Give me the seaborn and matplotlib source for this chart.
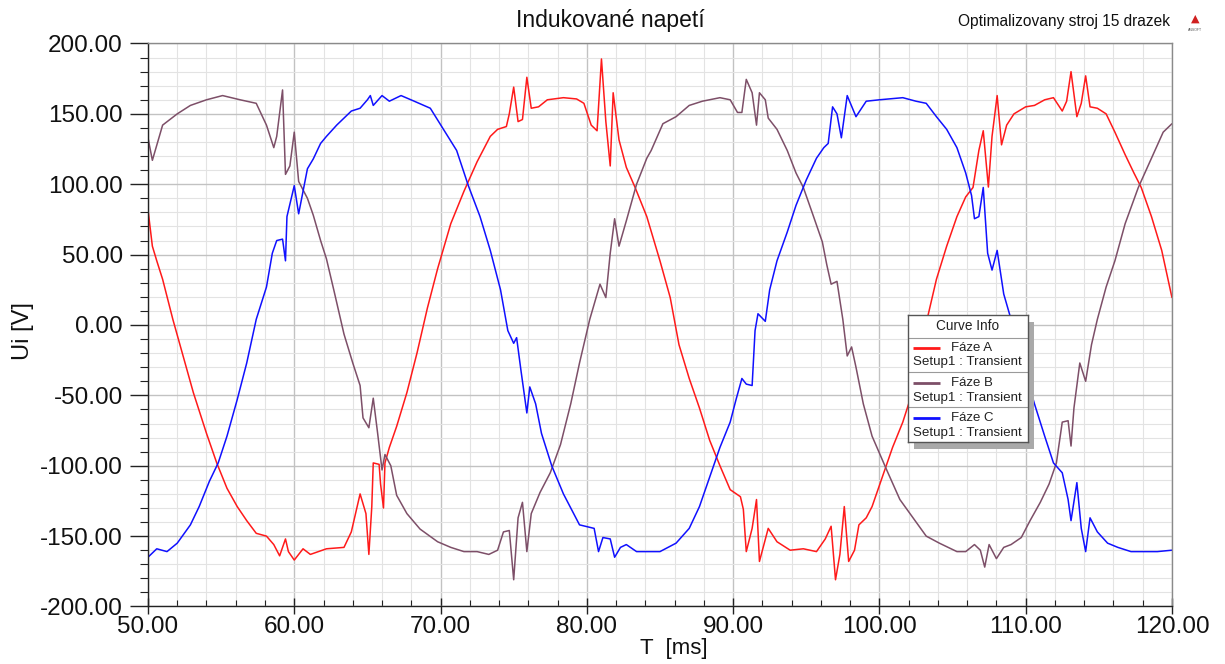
import numpy as np
import pandas as pd
import matplotlib
matplotlib.use("Agg")
import matplotlib.pyplot as plt
import seaborn as sns
from matplotlib.ticker import MultipleLocator, FormatStrFormatter
from matplotlib.patches import Rectangle

# ---------------- data ----------------
t_a = [50.0, 50.3, 50.6, 51.0, 51.7, 52.4, 53.1, 54.0, 54.7, 55.4, 56.1, 56.75, 57.4, 58.1, 58.6,
       59.0, 59.4, 59.6, 60.0, 60.6, 61.1, 62.2, 63.4, 63.9, 64.5, 64.9, 65.1, 65.3, 65.4, 65.8,
       65.9, 66.1, 66.2, 66.5, 67.0, 67.7, 68.4, 69.1, 69.8, 70.7, 71.6, 72.5, 73.4, 73.9, 74.5,
       74.7, 75.0, 75.3, 75.6, 75.9, 76.2, 76.7, 77.3, 78.4, 79.3, 79.8, 80.3, 80.7, 81.0, 81.3,
       81.6, 81.8, 82.2, 82.7, 83.3, 84.1, 85.0, 85.7, 86.3, 87.0, 87.7, 88.4, 89.1, 89.8, 90.5,
       90.7, 90.9, 91.3, 91.6, 91.8, 92.4, 93.0, 93.9, 94.8, 95.7, 96.3, 96.7, 97.0, 97.3, 97.6,
       97.9, 98.3, 98.6, 99.1, 99.5, 100.2, 100.9, 101.6, 102.0, 102.7, 103.2, 103.9, 104.6, 105.3,
       105.9, 106.4, 106.8, 107.1, 107.45, 107.7, 108.05, 108.35, 108.7, 109.2, 110.0, 110.6, 111.3,
       111.9, 112.5, 112.8, 113.1, 113.5, 113.8, 114.1, 114.4, 114.9, 115.5, 116.1, 116.8, 117.4,
       117.9, 118.6, 119.3, 120.0]
u_a = [82, 56, 45.6, 32.5, 4, -22, -48, -77, -98, -116, -129, -139, -148, -150, -156,
       -164, -152, -161, -167, -159, -163, -159, -158, -147, -120, -134, -163, -129, -98, -99,
       -113, -130, -98, -87, -72, -48, -19.5, 12, 40, 72, 95, 116, 134, 139, 141,
       150, 169, 144.5, 146, 176, 154, 155, 160, 161.5, 160.6, 157.5, 142, 138, 189, 144.5,
       113, 165, 131.5, 112, 97.7, 77, 45.6, 19.5, -14, -38, -59, -82, -100, -117, -122,
       -131, -161, -144.5, -124, -168, -144.5, -154, -160, -159, -161, -152, -143, -181, -163, -129,
       -168, -160, -142, -137, -129, -108, -87, -69, -56, -25, 1.3, 32.5, 56, 77,
       91, 97.7, 124, 138, 98, 134, 163, 128, 142, 150, 155, 156, 160,
       161.5, 152, 159, 180, 148, 157.5, 177, 155, 154, 150, 137, 121, 108,
       97.7, 77, 53, 19.5]

t_b = [50.0, 50.3, 51.0, 52.0, 52.9, 54.0, 55.1, 56.3, 57.4, 58.1, 58.6, 58.8, 59.2, 59.4, 59.7,
       60.0, 60.3, 60.9, 61.3, 61.8, 62.2, 62.7, 63.4, 64.0, 64.5, 64.7, 65.1, 65.4, 65.7, 66.0,
       66.2, 66.6, 67.0, 67.7, 68.6, 69.8, 70.7, 71.6, 72.5, 73.3, 73.9, 74.3, 74.7, 75.0, 75.3,
       75.6, 75.9, 76.2, 76.8, 77.5, 78.2, 78.9, 79.5, 80.2, 80.9, 81.3, 81.6, 81.9, 82.2, 82.7,
       83.4, 84.1, 84.4, 85.2, 86.1, 87.0, 87.9, 89.1, 89.8, 90.3, 90.6, 90.9, 91.3, 91.6, 91.8,
       92.2, 92.4, 93.0, 93.7, 94.3, 94.8, 95.5, 96.1, 96.4, 96.7, 97.1, 97.5, 97.8, 98.1, 98.4,
       98.9, 99.5, 100.5, 101.4, 102.3, 103.2, 104.1, 105.3, 105.9, 106.5, 106.9, 107.2, 107.5, 108.0,
       108.5, 109.0, 109.7, 110.3, 111.0, 111.6, 112.1, 112.5, 112.9, 113.1, 113.3, 113.7, 114.1,
       114.5, 114.9, 115.5, 116.1, 116.8, 117.7, 118.6, 119.4, 120.0]
u_b = [133, 117, 142, 150, 156, 160, 163, 160, 157.5, 142, 126, 134, 167, 107, 113,
       137, 102, 90, 78, 60, 47, 25, -6.5, -27, -43, -66, -73, -52, -77, -103,
       -92, -100, -121, -134, -145, -154, -158, -161, -161, -163, -160, -147, -146, -181, -137,
       -126, -161, -134, -119, -105, -85, -56, -27, 4, 29, 19.5, 51, 75.5, 56, 74,
       100, 118.5, 124, 143, 148, 156, 159, 161.5, 160, 151, 151, 174.5, 165, 142, 165,
       160, 147, 139, 124, 108, 97.7, 77, 59, 43, 29, 31, 4, -22, -15.6, -30,
       -56, -79, -103, -124, -137, -150, -155, -161, -161, -156, -160, -172, -156, -166,
       -158, -156, -151, -139, -126, -113, -98, -69, -68, -86, -59, -27, -40,
       -14, 4, 27, 45.6, 72, 97.7, 118.5, 137, 143]

t_c = [50.0, 50.6, 51.3, 52.0, 52.9, 53.5, 54.2, 54.8, 55.4, 56.1, 56.75, 57.4, 58.1, 58.5, 58.8,
       59.2, 59.4, 59.5, 60.0, 60.3, 60.9, 61.3, 61.8, 62.2, 62.9, 63.9, 64.5, 65.0, 65.2, 65.4,
       66.0, 66.5, 67.3, 68.2, 69.3, 70.2, 71.1, 71.9, 72.7, 73.4, 74.1, 74.6, 75.0, 75.2, 75.5,
       75.9, 76.1, 76.5, 76.9, 77.6, 78.4, 79.1, 79.5, 80.5, 80.8, 81.1, 81.6, 81.9, 82.3, 82.7,
       83.4, 84.1, 85.0, 86.1, 87.0, 87.7, 88.4, 89.1, 89.8, 90.2, 90.6, 90.9, 91.3, 91.5, 91.7,
       92.2, 92.5, 93.0, 93.7, 94.3, 95.0, 95.7, 96.2, 96.5, 96.8, 97.1, 97.4, 97.8, 98.4, 99.1,
       100.0, 101.6, 102.5, 103.2, 103.9, 104.6, 105.3, 105.9, 106.3, 106.5, 106.8, 107.1, 107.4,
       107.7, 108.05, 108.5, 109.0, 109.4, 110.1, 110.6, 111.3, 111.9, 112.5, 112.9, 113.1, 113.5,
       113.8, 114.1, 114.4, 114.9, 115.6, 116.3, 117.2, 118.1, 119.0, 120.0]
u_c = [-165, -159, -161, -155, -142, -129, -111, -98, -79, -53, -27, 4, 27, 51, 60,
       61, 45.6, 77, 99, 79, 111, 118, 129, 134, 142, 152, 154, 160, 163, 156,
       163, 159, 163, 159, 154, 139, 124, 99, 77, 53, 25, -4, -13, -9, -32.5,
       -62.5, -44, -56, -77, -100, -120, -134, -142, -144.5, -161, -151, -152, -165, -158, -156,
       -161, -161, -161, -155, -144.5, -129, -108, -87, -69, -53, -38, -42, -43, -4, 8,
       2.6, 25, 45.6, 66, 85, 103, 118.5, 126, 129, 155, 150, 133, 163, 148, 159,
       160, 161.5, 159, 157.5, 148, 139, 126, 108, 92, 75.5, 77, 97.7, 51,
       39, 53, 22, 4, -14, -38, -56, -79, -98, -105, -124, -139, -112,
       -144.5, -161, -137, -147, -155, -158, -161, -161, -161, -160]

phase_names = ["Fáze A", "Fáze B", "Fáze C"]
phase_colors = ["#ff1a1a", "#7d4f68", "#1010ff"]
legend_subtitle = "Setup1 : Transient"

df = pd.concat([
    pd.DataFrame({"T": t_a, "Ui": u_a, "phase": phase_names[0]}),
    pd.DataFrame({"T": t_b, "Ui": u_b, "phase": phase_names[1]}),
    pd.DataFrame({"T": t_c, "Ui": u_c, "phase": phase_names[2]}),
], ignore_index=True)

# ---------------- style ----------------
sns.set_theme(style="white")
plt.rcParams["font.family"] = ["Liberation Sans", "DejaVu Sans"]

fig = plt.figure(figsize=(12.25, 6.64), dpi=100)
ax = fig.add_axes([0.1208, 0.0866, 0.8359, 0.8479])

sns.lineplot(data=df, x="T", y="Ui", hue="phase", hue_order=phase_names,
             palette=dict(zip(phase_names, phase_colors)), estimator=None, sort=False,
             linewidth=1.1, legend=False, ax=ax)

ax.set_xlim(50, 120)
ax.set_ylim(-200, 200)
ax.xaxis.set_major_locator(MultipleLocator(10))
ax.xaxis.set_minor_locator(MultipleLocator(2))
ax.yaxis.set_major_locator(MultipleLocator(50))
ax.yaxis.set_minor_locator(MultipleLocator(10))
ax.xaxis.set_major_formatter(FormatStrFormatter("%.2f"))
ax.yaxis.set_major_formatter(FormatStrFormatter("%.2f"))
ax.grid(which="major", color="#c2c2c2", linewidth=1.0)
ax.grid(which="minor", color="#e3e3e3", linewidth=0.8)
ax.set_axisbelow(True)
ax.tick_params(which="both", bottom=True, left=True, top=False, right=False, color="#222222",
               labelsize=17.5, labelcolor="#111111")
# y axis: ticks pointing outwards
ax.tick_params(axis="y", which="major", direction="out", length=13, width=1.0, pad=5)
ax.tick_params(axis="y", which="minor", direction="out", length=6, width=0.8)
# x axis: minor ticks inside, major crossing the axis
ax.tick_params(axis="x", which="major", direction="inout", length=12, width=1.0, pad=1)
ax.tick_params(axis="x", which="minor", direction="in", length=4.5, width=0.8)
ax.set_xlabel("")
ax.set_ylabel("")
for side in ["left", "bottom"]:
    ax.spines[side].set_color("#222222")
    ax.spines[side].set_linewidth(1.0)
for side in ["top", "right"]:
    ax.spines[side].set_color("#8a8a8a")
    ax.spines[side].set_linewidth(1.0)

# axis labels, titles
fig.text(0.0188, 0.5015, "Ui [V]", rotation=90, ha="center", va="center", fontsize=17,
         color="#111111")
fig.text(0.550, 0.024, "T  [ms]", ha="center", va="center", fontsize=16, color="#111111")
fig.text(0.4984, 0.969, "Indukované napetí", ha="center", va="center", fontsize=16.5,
         color="#111111")
fig.text(0.955, 0.968, "Optimalizovany stroj 15 drazek", ha="right", va="center", fontsize=11.2,
         color="#111111")
fig.text(0.9755, 0.972, "▲", ha="center", va="center", fontsize=8, color="#d02020",
         family=["DejaVu Sans"])
fig.text(0.9755, 0.955, "ANSOFT", ha="center", va="center", fontsize=2.5, color="#555555")

# ---------------- "Curve Info" box ----------------
bx0, by0, bw, bh = 0.742, 0.292, 0.117, 0.226
ax.add_patch(Rectangle((bx0 + 0.006, by0 - 0.012), bw, bh, transform=ax.transAxes,
                       facecolor="#a9a9a9", edgecolor="none", zorder=8))
lax = ax.inset_axes([bx0, by0, bw, bh])
lax.set_zorder(9)
lax.set_xlim(0, 1)
lax.set_ylim(0, 1)
lax.set_xticks([])
lax.set_yticks([])
lax.set_facecolor("white")
for s in lax.spines.values():
    s.set_color("#555555")
    s.set_linewidth(1.0)
lax.text(0.5, 0.913, "Curve Info", ha="center", va="center", fontsize=9.8, color="#222222")
for ysep in [0.821, 0.554, 0.278]:
    lax.plot([0, 1], [ysep, ysep], color="#9a9a9a", lw=0.8)
rows = [(0.74, 0.63), (0.465, 0.346), (0.189, 0.071)]
for (yl, ys), name, col in zip(rows, phase_names, phase_colors):
    lax.plot([0.04, 0.27], [yl, yl], color=col, lw=2.0, solid_capstyle="butt")
    lax.text(0.36, yl, name, ha="left", va="center", fontsize=9.5, color="#222222")
    lax.text(0.5, ys, legend_subtitle, ha="center", va="center", fontsize=9.6, color="#222222")

fig.savefig("out.png", dpi=100, facecolor="white")
